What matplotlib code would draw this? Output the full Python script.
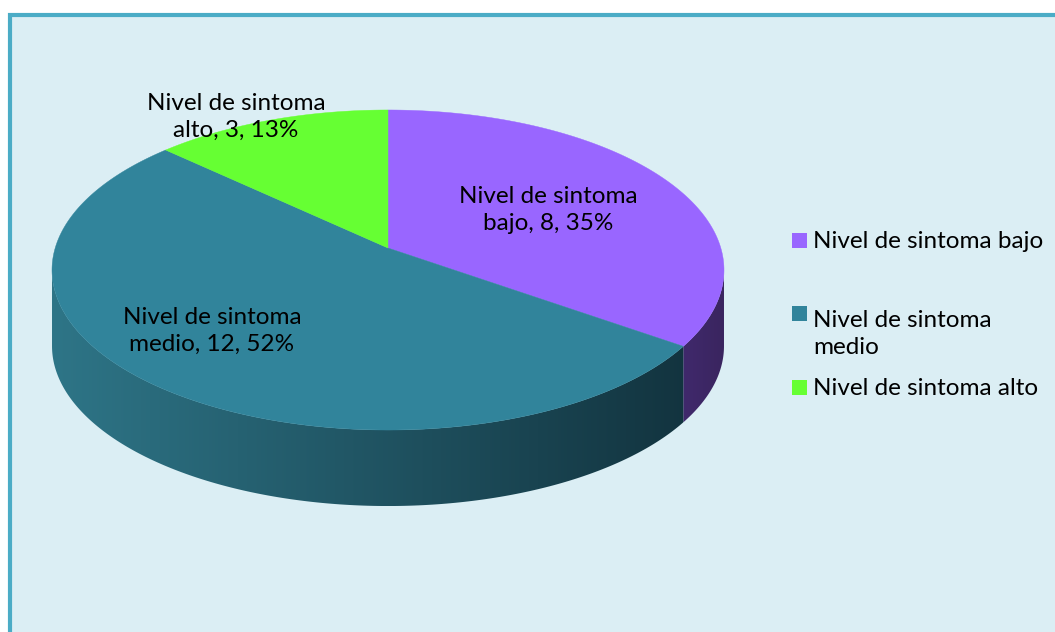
"""
3D-style pie of symptom levels (Excel look), drawn with plain matplotlib patches.
"""
import numpy as np
import matplotlib
matplotlib.use("Agg")
import matplotlib.pyplot as plt
from matplotlib.patches import Polygon, Rectangle
from matplotlib.colors import LinearSegmentedColormap

categories = ["Nivel de sintoma bajo", "Nivel de sintoma medio", "Nivel de sintoma alto"]
counts = [8, 12, 3]
legend_labels = ["Nivel de sintoma bajo", "Nivel de sintoma\nmedio", "Nivel de sintoma alto"]

top_colors = ["#9966FF", "#31849B", "#66FF33"]
side_colors = [("#40296c", "#3a255f"), ("#2e7587", "#11303b"), ("#3c9a1e", "#1f5410")]

W, H = 1055, 632
CX, CY = 388, 248          # projected centre of the disc (px)
A, B, K = 332.8, 157, 0.1375   # perspective ellipse: half width, half height, depth factor
DEPTH = 76
FONT = "Lato"
FS = 17.5
LS = 1.35
LINE_PX = LS * FS * 100 / 72


def proj(theta, r=1.0):
    u = r * np.cos(theta)
    v = r * np.sin(theta)
    d = 1 + K * v
    return CX + A * u / d, CY - B * v / d


fig = plt.figure(figsize=(W / 100, H / 100), dpi=100, facecolor="white")
ax = fig.add_axes([0, 0, 1, 1])
ax.set_xlim(0, W)
ax.set_ylim(H, 0)
ax.axis("off")

# chart area with blue frame
ax.add_patch(Rectangle((10, 14.5), W + 50, H + 50, fc="#DBEEF4", ec="#4BACC6", lw=3, zorder=0))

total = sum(counts)
bounds = 90 - 360 * np.concatenate([[0], np.cumsum(counts)]) / total  # clockwise from 12 o'clock

# visible front side spans between the two silhouette points
vis_hi = np.degrees(np.arctan2(-K, np.sqrt(1 - K ** 2)))
vis_lo = np.degrees(np.arctan2(-K, -np.sqrt(1 - K ** 2)))

# sides
for i in range(len(counts)):
    a_hi, a_lo = bounds[i], bounds[i + 1]
    for shift in (-360, 0, 360):
        lo = max(a_lo + shift, vis_lo)
        hi = min(a_hi + shift, vis_hi)
        if hi <= lo:
            continue
        th = np.radians(np.linspace(lo, hi, 200))
        xs, ys = proj(th)
        pts = np.column_stack([np.r_[xs, xs[::-1]], np.r_[ys, ys[::-1] + DEPTH]])
        poly = Polygon(pts, closed=True, fc="none", ec="none")
        ax.add_patch(poly)
        cmap = LinearSegmentedColormap.from_list("side%d" % i, side_colors[i])
        grad = np.linspace(0, 1, 256)[None, :]
        x0 = proj(np.radians(vis_lo))[0] if i == 1 else xs.min()
        x1 = proj(np.radians(vis_hi))[0] if i == 1 else xs.max()
        im = ax.imshow(grad, cmap=cmap, aspect="auto", interpolation="bilinear",
                       extent=(x0, x1, ys.max() + DEPTH, ys.min()), zorder=1)
        im.set_clip_path(poly)

# top faces
for i in range(len(counts)):
    th = np.radians(np.linspace(bounds[i], bounds[i + 1], 300))
    xs, ys = proj(th)
    pts = np.column_stack([np.r_[CX, xs], np.r_[CY, ys]])
    ax.add_patch(Polygon(pts, closed=True, fc=top_colors[i], ec=top_colors[i], lw=0.3, zorder=2))

# data labels
label_pos = [(548, 210), (212, 331), (236, 117)]
for i, name in enumerate(categories):
    head, tail = name.rsplit(" ", 1)
    pct = round(100 * counts[i] / total)
    txt = "%s\n%s, %d, %d%%" % (head, tail, counts[i], pct)
    ax.text(label_pos[i][0], label_pos[i][1], txt, ha="center", va="center",
            multialignment="center", fontsize=FS, family=FONT, linespacing=LS,
            color="black", zorder=3)

# legend (baseline of multi-line text sits on the last line)
legend_y = [240, 313, 387]
for i, lab in enumerate(legend_labels):
    ax.add_patch(Rectangle((792, legend_y[i] - 7.5), 14.5, 15, fc=top_colors[i], ec="none", zorder=3))
    extra = lab.count("\n") * LINE_PX
    ax.text(813, legend_y[i] + 8 + extra, lab, ha="left", va="baseline", fontsize=FS, family=FONT,
            linespacing=LS, color="black", zorder=3)

ax.set_xlim(0, W)
ax.set_ylim(H, 0)
fig.savefig("out.png", dpi=100, facecolor="white")
